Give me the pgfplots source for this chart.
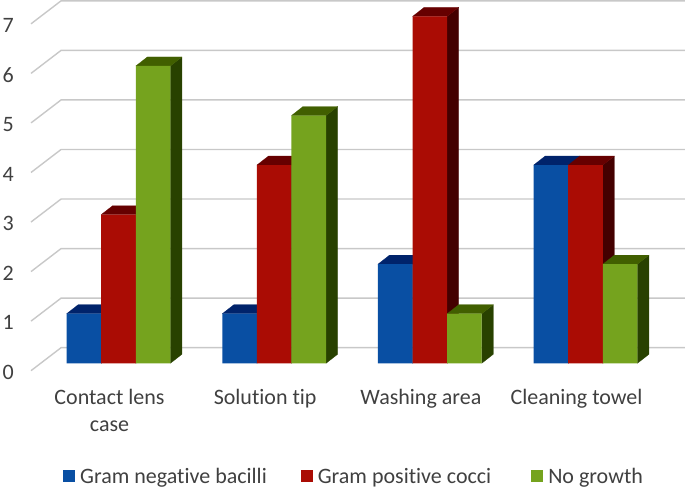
\documentclass[border=0pt]{standalone}
\usepackage{pgfplots}
\usepackage{fontspec}
\setmainfont{Carlito}[Ligatures={NoCommon}]
\pgfplotsset{compat=1.18}
\definecolor{bluef}{RGB}{9,79,163}\definecolor{bluet}{RGB}{0,35,107}\definecolor{blues}{RGB}{0,28,85}
\definecolor{redf}{RGB}{170,12,4}\definecolor{redt}{RGB}{102,0,0}\definecolor{reds}{RGB}{68,0,0}
\definecolor{greenf}{RGB}{117,163,30}\definecolor{greent}{RGB}{65,95,0}\definecolor{greens}{RGB}{40,65,0}
\definecolor{gridc}{RGB}{200,200,200}\definecolor{txt}{RGB}{64,64,64}
% depth faces of one bar: {bar shift}{category}{value}{top}{side}
\newcommand{\depth}[5]{%
  \pgfmathsetmacro{\xl}{#2+#1-0.1112}%
  \pgfmathsetmacro{\xr}{#2+#1+0.1112}%
  \pgfmathsetmacro{\xbl}{\xl+0.0739}%
  \pgfmathsetmacro{\xbr}{\xr+0.0739}%
  \pgfmathsetmacro{\yb}{#3+0.1816}%
  \addplot[forget plot,fill=#5,draw=#5,line width=0.2pt] coordinates {(\xr,0) (\xr,#3) (\xbr,\yb) (\xbr,0.1816) (\xr,0)};
  \addplot[forget plot,fill=#4,draw=#4,line width=0.2pt] coordinates {(\xl,#3) (\xr,#3) (\xbr,\yb) (\xbl,\yb) (\xl,#3)};
}
\pgfplotsset{gl/.style={forget plot,gridc,line width=1.4pt}}
\begin{document}
\begin{tikzpicture}[x=1pt,y=1pt]
\path[use as bounding box] (0,0) rectangle (685,489);
\begin{axis}[
  at={(0,0)},anchor=south west,
  width=685pt,height=489pt,scale only axis,
  xmin=-0.76124,xmax=3.6391,ymin=-2.5368,ymax=7.3320,
  axis line style={draw=none},tick style={draw=none},
  xtick={0,1,2,3},
  xticklabels={{Contact lens\\case},{Solution tip},{Washing area},{Cleaning towel}},
  ytick={0,1,2,3,4,5,6,7},
  /pgf/number format/assume math mode=true,
  tick label style={text=txt,font=\fontsize{22}{27}\selectfont},
  xticklabel style={align=center,anchor=north,xshift=-9pt,yshift=103pt},
  yticklabel style={anchor=west,xshift=-1pt,yshift=-9pt},
  legend style={at={(0.0,0.0)},anchor=south west,xshift=60pt,yshift=0pt,draw=none,fill=none,
    font=\fontsize{22}{24}\selectfont,text=txt,legend columns=3,
    nodes={inner xsep=5pt},
    /tikz/every even column/.append style={column sep=29pt}},
  legend image code/.code={\fill[#1] (0pt,-5.5pt) rectangle (12pt,6.5pt);},
  legend cell align=left,
]
% gridlines: front-left, back-left, right edge
\addplot[gl] coordinates {(-0.562,-0.149) (-0.369,0.315) (3.6391,0.315)};
\addplot[gl] coordinates {(-0.562,0.851) (-0.369,1.315) (3.6391,1.315)};
\addplot[gl] coordinates {(-0.562,1.851) (-0.369,2.315) (3.6391,2.315)};
\addplot[gl] coordinates {(-0.562,2.851) (-0.369,3.315) (3.6391,3.315)};
\addplot[gl] coordinates {(-0.562,3.851) (-0.369,4.315) (3.6391,4.315)};
\addplot[gl] coordinates {(-0.562,4.851) (-0.369,5.315) (3.6391,5.315)};
\addplot[gl] coordinates {(-0.562,5.851) (-0.369,6.315) (3.6391,6.315)};
\addplot[gl] coordinates {(-0.562,6.851) (-0.369,7.315) (3.6391,7.315)};
% Gram negative bacilli
\depth{-0.2223}{0}{1}{bluet}{blues}
\depth{-0.2223}{1}{1}{bluet}{blues}
\depth{-0.2223}{2}{2}{bluet}{blues}
\depth{-0.2223}{3}{4}{bluet}{blues}
\addplot[ybar,bar width=34.6pt,bar shift=-34.6pt,fill=bluef,draw=none] coordinates {(0,1) (1,1) (2,2) (3,4)};
\addlegendentry{Gram negative bacilli}
% Gram positive cocci
\depth{0}{0}{3}{redt}{reds}
\depth{0}{1}{4}{redt}{reds}
\depth{0}{2}{7}{redt}{reds}
\depth{0}{3}{4}{redt}{reds}
\addplot[ybar,bar width=34.6pt,bar shift=0pt,fill=redf,draw=none] coordinates {(0,3) (1,4) (2,7) (3,4)};
\addlegendentry{Gram positive cocci\hspace*{6pt}}
% No growth
\depth{0.2223}{0}{6}{greent}{greens}
\depth{0.2223}{1}{5}{greent}{greens}
\depth{0.2223}{2}{1}{greent}{greens}
\depth{0.2223}{3}{2}{greent}{greens}
\addplot[ybar,bar width=34.6pt,bar shift=34.6pt,fill=greenf,draw=none] coordinates {(0,6) (1,5) (2,1) (3,2)};
\addlegendentry{No growth}
\end{axis}
\end{tikzpicture}
\end{document}
